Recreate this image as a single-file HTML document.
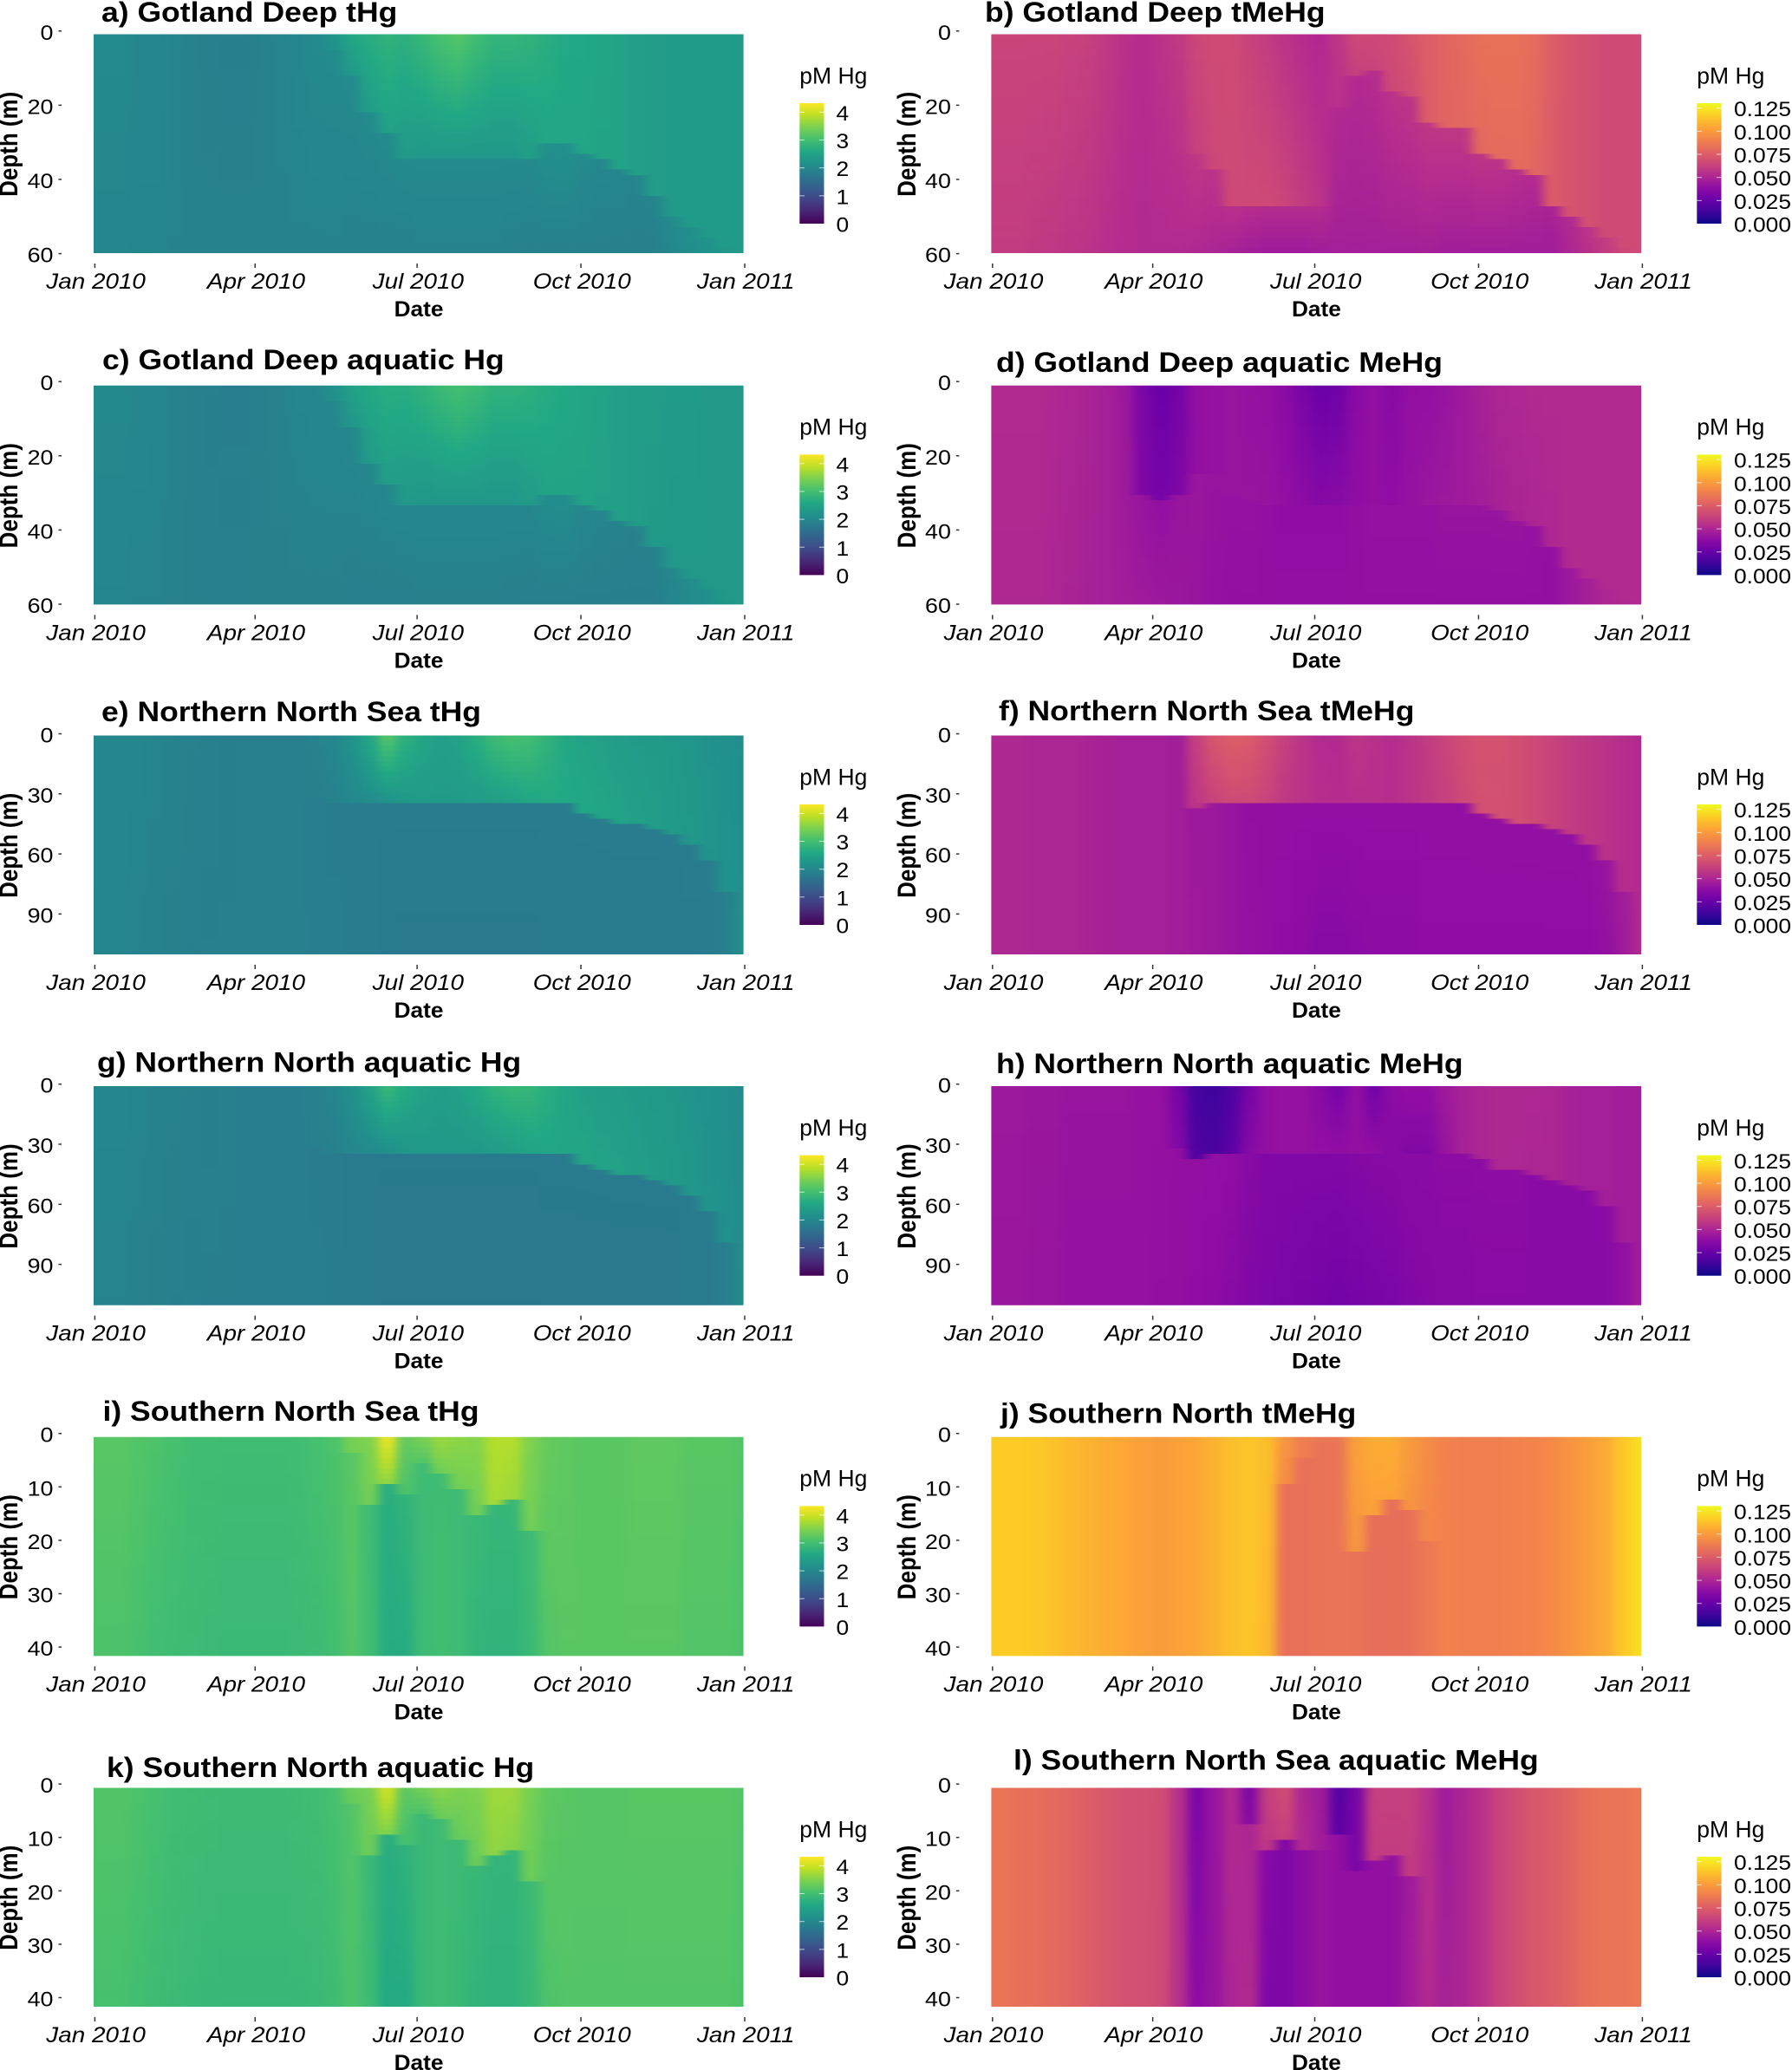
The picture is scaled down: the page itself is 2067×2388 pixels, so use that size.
<!DOCTYPE html>
<html lang="en">
<head>
<meta charset="utf-8">
<title>Hg and MeHg depth-time heatmaps</title>
<style>
html,body{margin:0;padding:0;background:#fff;}
svg{display:block;}
text{font-family:"Liberation Sans",sans-serif;fill:#000;}
</style>
</head>
<body>
<svg id="figure" xmlns="http://www.w3.org/2000/svg" width="2067" height="2388" viewBox="0 0 2067 2388">
<defs id="defs">
<filter id="column-smooth" x="-5%" y="0%" width="110%" height="100%" color-interpolation-filters="sRGB"><feGaussianBlur stdDeviation="6 0"/></filter>
</defs>
<rect x="0" y="0" width="2067" height="2388" fill="#fff"/>
</svg>
<script>
// Time columns (day of year) and axis labels
const colDays=[0,10,20,30,40,50,60,70,80,90,100,110,120,130,140,150,160,170,180,190,200,210,220,230,240,250,260,270,280,290,300,310,320,330,340,350,360];
const xTickDays=[0,90,181,273,365];
const xTickLabels=["Jan 2010","Apr 2010","Jul 2010","Oct 2010","Jan 2011"];
const depthTicksGotland=[0,20,40,60];
const depthTicksNorth=[0,30,60,90];
const depthTicksSouth=[0,10,20,30,40];
const hgLegendTicks=[0,1,2,3,4];
const mehgLegendTicks=[0,0.025,0.05,0.075,0.1,0.125];
const viridisStops=["#440154","#482475","#414487","#355f8d","#2a788e","#21918c","#22a884","#44bf70","#7ad151","#bddf26","#fde725"];
const plasmaStops=["#0d0887","#41049d","#6a00a8","#8f0da4","#b12a90","#cc4778","#e16462","#f2844b","#fca636","#fcce25","#f0f921"];

// a) Gotland Deep tHg
const aUpper=[2.05,2.05,2.0,2.0,1.95,1.9,1.87,1.85,1.85,1.9,1.95,2.0, 2.1,2.25,2.6,2.7,2.8,2.75,2.9,3.1,3.2,3.0,2.85,2.85,2.8, 2.7,2.6,2.6,2.55,2.5,2.45,2.4,2.35,2.35,2.35,2.35,2.35];
const aMixed=[2.05,2.05,2.0,2.0,1.95,1.9,1.87,1.85,1.85,1.9,1.95,2.0, 2.1,2.15,2.3,2.4,2.45,2.35,2.3,2.3,2.3,2.3,2.3,2.3,2.4, 2.55,2.55,2.55,2.5,2.5,2.45,2.4,2.35,2.35,2.35,2.35,2.35];
const aMld=[0,0,0,0,0,0,0,0,0,0,0,0, 0,5,12,22,28,34,34,34,34,34,34,34,34, 30,31,33,35,37,39,44,50,53,56,59,60];
const aLower=[2.05,2.05,2.0,2.0,1.95,1.9,1.87,1.85,1.85,1.9,1.95,2.0, 2.05,2.05,2.05,2.05,2.05,2.05,2.05,2.05,2.05,2.05,2.05,2.05,2.05, 2.15,2.15,2.05,2.0,1.98,1.95,1.95,2.05,2.12,2.2,2.28,2.35];
const aBottom=[1.98,1.98,1.95,1.95,1.93,1.92,1.92,1.92,1.92,1.92,1.92,1.92, 1.92,1.92,1.9,1.9,1.9,1.9,1.92,1.92,1.92,1.92,1.92,1.9,1.88, 1.88,1.88,1.88,1.88,1.88,1.88,1.88,2.0,2.1,2.2,2.28,2.35];

// b) Gotland Deep tMeHg
const bUpper=[.065,.065,.065,.065,.064,.062,.057,.051,.05,.054,.062,.065, .067,.067,.063,.06,.056,.053,.051,.058,.066,.066,.067,.071,.075, .078,.08,.083,.083,.083,.081,.075,.071,.069,.067,.067,.067];
const bMixed=[.065,.065,.065,.065,.064,.062,.057,.051,.05,.054,.062,.062, .065,.066,.066,.066,.064,.06,.056,.055,.062,.063,.066,.067,.075, .078,.079,.08,.081,.081,.079,.074,.071,.069,.067,.067,.067];
const bMld=[0,0,0,0,0,0,0,0,0,0,0,33, 38,47,47,47,47,47,47,20,12,11,16,18,25, 26,26,33,35,37,39,47,50,53,56,59,60];
const bLower=[.064,.064,.064,.064,.063,.062,.059,.055,.053,.056,.059,.058, .056,.055,.054,.053,.053,.053,.053,.052,.052,.053,.056,.057,.058, .058,.058,.057,.056,.054,.052,.049,.052,.056,.06,.065,.066];
const bBottom=[.06,.06,.059,.058,.057,.056,.054,.053,.052,.052,.052,.051, .05,.048,.046,.045,.045,.045,.046,.047,.047,.047,.047,.047,.047, .046,.046,.046,.046,.046,.046,.046,.05,.055,.06,.065,.066];

// c) Gotland Deep aquatic Hg
const cUpper=[2.03,2.03,2.0,1.98,1.93,1.88,1.85,1.83,1.83,1.88,1.93,1.98, 2.08,2.2,2.5,2.6,2.7,2.7,2.8,2.95,3.05,2.95,2.8,2.8,2.75, 2.65,2.6,2.55,2.5,2.45,2.4,2.4,2.35,2.35,2.3,2.3,2.3];
const cMixed=[2.03,2.03,2.0,1.98,1.93,1.88,1.85,1.83,1.83,1.88,1.93,1.98, 2.08,2.12,2.25,2.35,2.4,2.3,2.25,2.25,2.25,2.25,2.25,2.25,2.35, 2.5,2.5,2.5,2.45,2.45,2.4,2.35,2.3,2.3,2.3,2.3,2.3];
const cMld=[0,0,0,0,0,0,0,0,0,0,0,0, 0,5,12,22,28,34,34,34,34,34,34,34,34, 30,31,33,35,37,39,44,50,53,56,59,60];
const cLower=[2.03,2.03,2.0,1.98,1.93,1.88,1.85,1.83,1.83,1.88,1.93,1.98, 2.0,2.0,2.0,2.0,2.0,2.0,2.0,2.0,2.0,2.0,2.0,2.0,2.0, 2.1,2.1,2.0,1.95,1.92,1.9,1.9,2.0,2.08,2.15,2.25,2.3];
const cBottom=[1.96,1.96,1.93,1.93,1.9,1.88,1.88,1.88,1.88,1.88,1.88,1.88, 1.88,1.88,1.86,1.86,1.86,1.86,1.88,1.88,1.88,1.88,1.88,1.86,1.85, 1.85,1.85,1.85,1.85,1.85,1.85,1.85,1.95,2.05,2.15,2.25,2.3];

// d) Gotland Deep aquatic MeHg
const dUpper=[.052,.052,.052,.051,.05,.049,.047,.042,.032,.026,.029,.04, .041,.042,.041,.04,.037,.031,.026,.027,.037,.04,.036,.04,.04, .042,.045,.048,.05,.051,.052,.052,.052,.052,.052,.052,.052];
const dMixed=[.052,.052,.052,.051,.05,.049,.047,.042,.033,.03,.033,.04, .041,.042,.042,.042,.04,.038,.036,.037,.039,.04,.039,.041,.043, .044,.045,.046,.048,.049,.05,.051,.052,.052,.052,.052,.052];
const dMld=[0,0,0,0,0,0,0,0,30,32,30,25, 25,30,32,34,34,34,34,34,34,34,34,34,34, 34,34,34,35,37,39,44,50,53,56,59,60];
const dLower=[.052,.052,.052,.051,.05,.049,.047,.044,.042,.04,.042,.043, .042,.041,.041,.04,.039,.039,.039,.039,.04,.041,.041,.041,.041, .042,.042,.042,.042,.042,.041,.04,.044,.047,.05,.051,.052];
const dBottom=[.051,.051,.051,.05,.049,.048,.047,.046,.045,.044,.043,.042, .041,.04,.04,.04,.04,.04,.04,.04,.04,.04,.04,.04,.04, .04,.04,.04,.04,.04,.04,.04,.044,.047,.05,.051,.052];

// e) Northern North Sea tHg
const eUpper=[2.0,2.0,1.98,1.95,1.93,1.9,1.88,1.86,1.85,1.85,1.85,1.88, 1.92,2.0,2.2,2.6,3.2,2.75,2.55,2.45,2.5,2.7,2.95,3.05,3.0, 2.8,2.6,2.5,2.45,2.4,2.35,2.35,2.3,2.25,2.2,2.15,2.1];
const eMixed=[2.0,2.0,1.98,1.95,1.93,1.9,1.88,1.86,1.85,1.85,1.85,1.88, 1.88,1.9,2.0,2.05,2.15,2.3,2.35,2.35,2.35,2.35,2.4,2.45,2.55, 2.6,2.6,2.6,2.55,2.5,2.45,2.4,2.35,2.3,2.25,2.2,2.15];
const eMld=[0,0,0,0,0,0,0,0,0,0,0,0, 32,35,35,35,35,35,35,35,35,35,35,35,35, 35,35,40,42,44,45,47,50,55,63,80,110];
const eLower=[2.0,2.0,1.98,1.95,1.93,1.9,1.88,1.86,1.85,1.85,1.85,1.85, 1.82,1.8,1.78,1.78,1.78,1.78,1.78,1.78,1.78,1.78,1.78,1.78,1.78, 1.78,1.78,1.78,1.78,1.78,1.78,1.78,1.78,1.78,1.78,1.85,2.1];
const eBottom=[1.95,1.95,1.93,1.9,1.88,1.86,1.85,1.85,1.85,1.85,1.85,1.85, 1.83,1.82,1.8,1.78,1.76,1.75,1.75,1.75,1.75,1.75,1.75,1.75,1.75, 1.76,1.76,1.76,1.76,1.76,1.76,1.76,1.76,1.77,1.78,1.85,2.05];

// f) Northern North Sea tMeHg
const fUpper=[.051,.051,.051,.05,.05,.05,.05,.05,.05,.052,.055,.062, .072,.075,.074,.068,.062,.056,.052,.052,.057,.055,.053,.056,.06, .064,.068,.07,.07,.068,.066,.063,.06,.058,.056,.054,.052];
const fMixed=[.051,.051,.051,.05,.05,.05,.05,.05,.05,.052,.055,.058, .063,.066,.066,.063,.058,.056,.054,.053,.054,.054,.054,.056,.059, .062,.066,.069,.069,.068,.066,.063,.06,.058,.056,.054,.052];
const fMld=[0,0,0,0,0,0,0,0,0,0,0,36, 35,35,35,35,35,35,35,35,35,35,35,35,35, 35,35,40,42,44,45,47,50,55,63,80,110];
const fLower=[.051,.051,.05,.05,.05,.049,.048,.047,.047,.047,.046,.044, .044,.042,.04,.04,.04,.04,.04,.04,.04,.04,.04,.04,.04, .04,.04,.04,.04,.04,.04,.04,.04,.04,.042,.046,.052];
const fBottom=[.051,.051,.05,.05,.05,.049,.048,.047,.047,.047,.046,.045, .044,.042,.041,.04,.039,.038,.036,.036,.037,.038,.038,.038,.039, .039,.039,.039,.039,.039,.039,.039,.039,.039,.04,.045,.052];

// g) Northern North aquatic Hg
const gUpper=[1.98,1.98,1.96,1.93,1.91,1.88,1.86,1.85,1.84,1.84,1.84,1.86, 1.9,1.98,2.15,2.5,2.9,2.65,2.5,2.42,2.48,2.62,2.8,2.9,2.85, 2.7,2.55,2.45,2.4,2.38,2.33,2.3,2.28,2.22,2.18,2.12,2.05];
const gMixed=[1.98,1.98,1.96,1.93,1.91,1.88,1.86,1.85,1.84,1.84,1.84,1.86, 1.86,1.88,1.98,2.03,2.12,2.25,2.3,2.3,2.3,2.3,2.35,2.4,2.5, 2.55,2.55,2.55,2.5,2.48,2.42,2.38,2.32,2.28,2.22,2.18,2.1];
const gMld=[0,0,0,0,0,0,0,0,0,0,0,0, 32,35,35,35,35,35,35,35,35,35,35,35,35, 35,35,40,42,44,45,47,50,55,63,80,110];
const gLower=[1.98,1.98,1.96,1.93,1.91,1.88,1.86,1.85,1.84,1.84,1.84,1.84, 1.8,1.78,1.76,1.76,1.76,1.76,1.76,1.76,1.76,1.76,1.76,1.76,1.76, 1.76,1.76,1.76,1.76,1.76,1.76,1.76,1.76,1.76,1.77,1.83,2.05];
const gBottom=[1.93,1.93,1.91,1.88,1.86,1.85,1.84,1.84,1.84,1.84,1.84,1.84, 1.82,1.8,1.78,1.76,1.74,1.74,1.74,1.74,1.74,1.74,1.74,1.74,1.74, 1.75,1.75,1.75,1.75,1.75,1.75,1.75,1.75,1.76,1.77,1.83,2.02];

// h) Northern North aquatic MeHg
const hUpper=[.044,.044,.043,.043,.042,.042,.042,.042,.041,.041,.03,.014, .012,.017,.03,.04,.041,.041,.036,.03,.04,.028,.038,.04,.04, .045,.048,.05,.051,.051,.051,.05,.048,.047,.047,.046,.046];
const hMixed=[.044,.044,.043,.043,.042,.042,.042,.042,.041,.041,.035,.018, .016,.022,.036,.04,.041,.041,.04,.04,.04,.04,.036,.034,.034, .042,.048,.05,.051,.051,.05,.05,.048,.047,.047,.046,.046];
const hMld=[0,0,0,0,0,0,0,0,0,0,32,38, 36,35,35,35,35,35,35,35,35,35,35,35,35, 35,35,37,42,43,45,48,50,54,62,80,110];
const hLower=[.044,.044,.043,.043,.042,.042,.042,.042,.041,.041,.04,.04, .04,.039,.036,.034,.034,.034,.034,.034,.035,.036,.036,.037,.037, .038,.038,.038,.038,.038,.037,.037,.037,.037,.037,.04,.046];
const hBottom=[.043,.043,.042,.042,.041,.041,.041,.041,.041,.04,.04,.039, .038,.036,.034,.033,.032,.031,.03,.029,.03,.031,.032,.034,.035, .036,.036,.037,.037,.037,.037,.037,.037,.037,.037,.04,.046];

// i) Southern North Sea tHg
const iUpper=[3.2,3.2,3.15,3.1,3.05,3.0,3.0,2.98,2.98,2.98,2.98,3.0, 3.05,3.1,3.45,3.5,4.3,3.3,3.5,3.7,3.6,3.55,3.85,3.85,3.5, 3.3,3.25,3.2,3.2,3.2,3.25,3.25,3.25,3.2,3.2,3.2,3.15];
const iMixed=[3.2,3.2,3.15,3.1,3.05,3.0,3.0,2.98,2.98,2.98,2.98,3.0, 3.05,3.1,3.4,3.4,3.6,3.1,3.1,3.4,3.4,3.4,3.75,3.7,3.4, 3.3,3.25,3.2,3.2,3.2,3.25,3.25,3.25,3.2,3.2,3.2,3.15];
const iMld=[0,0,0,0,0,0,0,0,0,0,0,0, 0,0,4,13,9.5,11,6,7,10,15,13,12,18, 0,0,0,0,0,0,0,0,0,0,0,0];
const iLower=[3.2,3.2,3.15,3.1,3.05,3.0,3.0,2.98,2.98,2.98,2.98,3.0, 3.05,3.1,3.2,2.95,2.7,2.8,2.95,2.98,2.95,2.9,2.85,2.85,2.95, 3.3,3.25,3.2,3.2,3.2,3.25,3.25,3.25,3.2,3.2,3.2,3.15];
const iBottom=[3.1,3.1,3.05,3.0,2.98,2.95,2.92,2.9,2.9,2.9,2.9,2.92, 2.95,3.0,3.15,3.0,2.65,2.65,2.95,3.0,2.95,2.82,2.8,2.8,2.9, 3.15,3.2,3.2,3.2,3.2,3.2,3.2,3.2,3.15,3.15,3.15,3.1];

// j) Southern North tMeHg
const jUpper=[.116,.116,.115,.113,.11,.108,.106,.104,.102,.1,.102,.104, .108,.112,.114,.112,.098,.088,.086,.086,.102,.106,.106,.1,.094, .09,.089,.089,.089,.09,.091,.093,.097,.101,.105,.115,.122];
const jMixed=[.116,.116,.115,.113,.11,.108,.106,.104,.102,.1,.102,.104, .108,.112,.114,.112,.094,.088,.086,.086,.098,.102,.103,.097,.092, .09,.089,.089,.089,.09,.091,.093,.097,.101,.105,.115,.122];
const jMld=[0,0,0,0,0,0,0,0,0,0,0,0, 0,0,0,0,9,5,2,2,22,15,12,14,20, 0,0,0,0,0,0,0,0,0,0,0,0];
const jLower=[.116,.116,.115,.113,.11,.108,.106,.104,.102,.1,.102,.104, .108,.112,.114,.112,.083,.083,.084,.085,.084,.082,.082,.083,.086, .09,.089,.089,.089,.09,.091,.093,.097,.101,.105,.115,.122];
const jBottom=[.116,.116,.115,.113,.11,.108,.106,.104,.102,.1,.102,.104, .108,.112,.114,.11,.083,.083,.084,.085,.084,.082,.082,.083,.086, .09,.089,.089,.089,.09,.091,.093,.097,.101,.105,.115,.122];

// k) Southern North aquatic Hg
const kUpper=[3.15,3.15,3.1,3.05,3.0,2.98,2.96,2.95,2.95,2.95,2.95,2.97, 3.0,3.05,3.35,3.45,4.1,3.25,3.45,3.6,3.5,3.5,3.7,3.7,3.45, 3.25,3.2,3.18,3.18,3.18,3.2,3.2,3.2,3.2,3.2,3.2,3.15];
const kMixed=[3.15,3.15,3.1,3.05,3.0,2.98,2.96,2.95,2.95,2.95,2.95,2.97, 3.0,3.05,3.3,3.35,3.5,3.05,3.05,3.3,3.3,3.35,3.6,3.55,3.35, 3.25,3.2,3.18,3.18,3.18,3.2,3.2,3.2,3.2,3.2,3.2,3.15];
const kMld=[0,0,0,0,0,0,0,0,0,0,0,0, 0,0,4,13,9.5,11,6,7,10,15,13,12,18, 0,0,0,0,0,0,0,0,0,0,0,0];
const kLower=[3.15,3.15,3.1,3.05,3.0,2.98,2.96,2.95,2.95,2.95,2.95,2.97, 3.0,3.05,3.15,2.9,2.68,2.78,2.9,2.95,2.92,2.88,2.82,2.82,2.92, 3.25,3.2,3.18,3.18,3.18,3.2,3.2,3.2,3.2,3.2,3.2,3.15];
const kBottom=[3.05,3.05,3.0,2.96,2.93,2.9,2.88,2.87,2.87,2.87,2.87,2.88, 2.9,2.95,3.1,2.95,2.62,2.62,2.9,2.95,2.9,2.8,2.78,2.78,2.88, 3.1,3.15,3.15,3.15,3.15,3.15,3.15,3.15,3.15,3.15,3.15,3.1];

// l) Southern North Sea aquatic MeHg
const lUpper=[.085,.083,.082,.08,.078,.075,.072,.07,.069,.068,.055,.03, .042,.052,.032,.062,.068,.05,.045,.02,.03,.062,.062,.062,.055, .045,.05,.055,.063,.068,.072,.075,.078,.083,.085,.085,.086];
const lMixed=[.085,.083,.082,.08,.078,.075,.072,.07,.069,.068,.055,.03, .042,.052,.036,.058,.062,.052,.046,.022,.032,.06,.06,.06,.055, .045,.05,.055,.063,.068,.072,.075,.078,.083,.085,.085,.086];
const lMld=[0,0,0,0,0,0,0,0,0,0,0,0, 0,0,8,12,10,12,12,9,16,14,13,17,0, 0,0,0,0,0,0,0,0,0,0,0,0];
const lLower=[.085,.083,.082,.08,.078,.075,.072,.07,.069,.068,.055,.032, .042,.052,.05,.036,.033,.038,.042,.04,.04,.04,.04,.045,.055, .045,.05,.055,.063,.068,.072,.075,.078,.083,.085,.085,.086];
const lBottom=[.085,.083,.082,.08,.078,.075,.072,.07,.069,.067,.055,.038, .042,.05,.052,.033,.033,.038,.042,.04,.04,.04,.04,.046,.052, .048,.05,.055,.063,.068,.072,.075,.078,.083,.085,.085,.086];

const SVGNS='http://www.w3.org/2000/svg';
const svg=document.getElementById('figure');
const defs=document.getElementById('defs');
const HG_MAX=4.33, MEHG_MAX=0.13;
const PLOT_W=749.6, PLOT_H=252.7, ROWS=42, BLEED=30;

function hexToRgb(h){return [parseInt(h.slice(1,3),16),parseInt(h.slice(3,5),16),parseInt(h.slice(5,7),16)];}
function colorAt(stops,f){
  f=Math.max(0,Math.min(1,f));
  const p=f*(stops.length-1), i=Math.min(stops.length-2,Math.floor(p)), t=p-i;
  const a=hexToRgb(stops[i]), b=hexToRgb(stops[i+1]);
  return 'rgb('+a.map((c,k)=>Math.round(c+(b[k]-c)*t)).join(',')+')';
}
function mk(tag,attrs,parent){
  const el=document.createElementNS(SVGNS,tag);
  for(const k in attrs) el.setAttribute(k,attrs[k]);
  parent.appendChild(el);
  return el;
}
function gradient(id,stops){
  const g=mk('linearGradient',{id:id,x1:0,y1:1,x2:0,y2:0},defs);
  stops.forEach((c,i)=>mk('stop',{offset:i/(stops.length-1),'stop-color':c},g));
}
gradient('viridis-grad',viridisStops);
gradient('plasma-grad',plasmaStops);

function drawPanel(p){
  const L=p.col===0?108:1143.4;
  const T=p.top, B=T+PLOT_H;
  const g=mk('g',{},svg);
  
  

  // axis functions
  const xScale=d=>L+d/365*PLOT_W;
  const yScale=z=>T+p.yOffset+z*p.pxPerM;
  const zTop=(T-yScale(0))/p.pxPerM;
  const zBot=(B-yScale(0))/p.pxPerM;
  const stops=p.isHg?viridisStops:plasmaStops;
  const maxV=p.isHg?HG_MAX:MEHG_MAX;

  // title
  const title=mk('text',{transform:'translate('+p.tx+','+p.ty+') scale(1.11,1)','font-size':32,'font-weight':'bold'},g);
  
  
  title.textContent=p.title;

  // heat cells: clipped to the plot, smoothed along the time direction only
  const clip=mk('clipPath',{id:'plot-clip-'+p.key},defs);
  mk('rect',{x:L,y:T,width:PLOT_W,height:PLOT_H},clip);
  const outer=mk('g',{'clip-path':'url(#plot-clip-'+p.key+')'},g);
  
  
  const inner=mk('g',{filter:'url(#column-smooth)'},outer);
  
  
  const rowH=PLOT_H/ROWS;
  const lastCol=colDays.length-1;
  colDays.forEach((day,c)=>{
    const x0=c===0?L-BLEED:xScale(day);
    const x1=c===lastCol?L+PLOT_W+BLEED:xScale(day+10);
    for(let r=0;r<ROWS;r++){
      const z=zTop+(r+0.5)*(zBot-zTop)/ROWS;
      const mld=p.mld[c];
      let v;
      if(z<mld){ v=p.upper[c]+(p.mixed[c]-p.upper[c])*(z/mld); }
      else { v=p.lower[c]+(p.bottom[c]-p.lower[c])*((z-mld)/Math.max(1,zBot-mld)); }
      const cell=mk('rect',{x:x0.toFixed(1),y:(T+r*rowH).toFixed(1),width:(x1-x0+0.6).toFixed(1),height:(rowH+0.6).toFixed(1),fill:colorAt(stops,v/maxV),'shape-rendering':'crispEdges'},inner);
      
      
    }
  });

  // x axis
  xTickDays.forEach((d,i)=>{
    const tx=xScale(d)+1.4;
    const tick=mk('line',{x1:tx,x2:tx,y1:B+12,y2:B+17,stroke:'#333','stroke-width':1.5},g);
    
    
    const lab=mk('text',{transform:'translate('+(tx+1.2)+','+(B+41)+') scale(1.115,1)','font-size':25,'font-style':'italic','text-anchor':'middle'},g);
    
    
    lab.textContent=xTickLabels[i];
  });
  const xTitle=mk('text',{transform:'translate('+(L+375)+','+(B+73)+') scale(1.05,1)','font-size':25,'font-weight':'bold','text-anchor':'middle'},g);
  
  
  xTitle.textContent='Date';

  // y axis
  const axisRight=L-37;
  p.depthTicks.forEach(z=>{
    const ty=yScale(z);
    const tick=mk('line',{x1:axisRight-3.5,x2:axisRight,y1:ty,y2:ty,stroke:'#333','stroke-width':1.5},g);
    
    
    const lab=mk('text',{transform:'translate('+(axisRight-9.5)+','+(ty+10)+') scale(1.12,1)','font-size':24,'text-anchor':'end'},g);
    
    
    lab.textContent=String(z);
  });
  const yTitleX=p.col===0?20:1056;
  const yTitle=mk('text',{transform:'translate('+yTitleX+','+(T+127)+') rotate(-90) scale(1,1.15)','font-size':26,'font-weight':'bold','text-anchor':'middle'},g);
  
  
  yTitle.textContent='Depth (m)';

  // legend
  const lx=p.col===0?922.3:1957.3, lw=28.2;
  const barTop=T+79.7, barBottom=T+218.7;
  const lt=mk('text',{transform:'translate('+lx+','+(T+57)+')','font-size':26.5},g);
  
  
  lt.textContent='pM Hg';
  const bar=mk('rect',{x:lx,y:barTop,width:lw,height:barBottom-barTop,fill:p.isHg?'url(#viridis-grad)':'url(#plasma-grad)'},g);
  
  
  const legendTicks=p.isHg?hgLegendTicks:mehgLegendTicks;
  const pxPerVal=p.isHg?32.15:1066.4;
  legendTicks.forEach(v=>{
    const ty=barBottom-v*pxPerVal;
    if(v>0){
      const t1=mk('line',{x1:lx,x2:lx+5.6,y1:ty,y2:ty,stroke:'#fff','stroke-opacity':.7,'stroke-width':1},g);
      
      
      const t2=mk('line',{x1:lx+lw-5.6,x2:lx+lw,y1:ty,y2:ty,stroke:'#fff','stroke-opacity':.7,'stroke-width':1},g);
      
      
    }
    const lab=mk('text',{transform:'translate('+(lx+lw+(p.isHg?14:14.5))+','+(ty+9.5)+') scale(1.1,1)','font-size':24},g);
    
    
    lab.textContent=p.isHg?String(v):v.toFixed(3);
  });
}

const panels=[
 {key:'a',title:'a) Gotland Deep tHg',col:0,top:39.3,tx:117,ty:25,isHg:true,depthTicks:depthTicksGotland,yOffset:-3.5,pxPerM:4.28,upper:aUpper,mixed:aMixed,mld:aMld,lower:aLower,bottom:aBottom},
 {key:'b',title:'b) Gotland Deep tMeHg',col:1,top:39.3,tx:1136,ty:25,isHg:false,depthTicks:depthTicksGotland,yOffset:-3.5,pxPerM:4.28,upper:bUpper,mixed:bMixed,mld:bMld,lower:bLower,bottom:bBottom},
 {key:'c',title:'c) Gotland Deep aquatic Hg',col:0,top:444.7,tx:118,ty:426,isHg:true,depthTicks:depthTicksGotland,yOffset:-4.5,pxPerM:4.28,upper:cUpper,mixed:cMixed,mld:cMld,lower:cLower,bottom:cBottom},
 {key:'d',title:'d) Gotland Deep aquatic MeHg',col:1,top:444.7,tx:1149,ty:429,isHg:false,depthTicks:depthTicksGotland,yOffset:-4.5,pxPerM:4.28,upper:dUpper,mixed:dMixed,mld:dMld,lower:dLower,bottom:dBottom},
 {key:'e',title:'e) Northern North Sea tHg',col:0,top:848.3,tx:117,ty:832,isHg:true,depthTicks:depthTicksNorth,yOffset:-1.8,pxPerM:2.31,upper:eUpper,mixed:eMixed,mld:eMld,lower:eLower,bottom:eBottom},
 {key:'f',title:'f) Northern North Sea tMeHg',col:1,top:848.3,tx:1152,ty:831,isHg:false,depthTicks:depthTicksNorth,yOffset:-1.8,pxPerM:2.31,upper:fUpper,mixed:fMixed,mld:fMld,lower:fLower,bottom:fBottom},
 {key:'g',title:'g) Northern North aquatic Hg',col:0,top:1253,tx:112,ty:1236.5,isHg:true,depthTicks:depthTicksNorth,yOffset:-2.3,pxPerM:2.31,upper:gUpper,mixed:gMixed,mld:gMld,lower:gLower,bottom:gBottom},
 {key:'h',title:'h) Northern North aquatic MeHg',col:1,top:1253,tx:1149,ty:1238,isHg:false,depthTicks:depthTicksNorth,yOffset:-2.3,pxPerM:2.31,upper:hUpper,mixed:hMixed,mld:hMld,lower:hLower,bottom:hBottom},
 {key:'i',title:'i) Southern North Sea tHg',col:0,top:1657.7,tx:118.5,ty:1639,isHg:true,depthTicks:depthTicksSouth,yOffset:-4,pxPerM:6.16,upper:iUpper,mixed:iMixed,mld:iMld,lower:iLower,bottom:iBottom},
 {key:'j',title:'j) Southern North tMeHg',col:1,top:1657.7,tx:1154,ty:1641.6,isHg:false,depthTicks:depthTicksSouth,yOffset:-4,pxPerM:6.16,upper:jUpper,mixed:jMixed,mld:jMld,lower:jLower,bottom:jBottom},
 {key:'k',title:'k) Southern North aquatic Hg',col:0,top:2062.3,tx:123,ty:2050,isHg:true,depthTicks:depthTicksSouth,yOffset:-4.2,pxPerM:6.16,upper:kUpper,mixed:kMixed,mld:kMld,lower:kLower,bottom:kBottom},
 {key:'l',title:'l) Southern North Sea aquatic MeHg',col:1,top:2062.3,tx:1169,ty:2041.7,isHg:false,depthTicks:depthTicksSouth,yOffset:-4.2,pxPerM:6.16,upper:lUpper,mixed:lMixed,mld:lMld,lower:lLower,bottom:lBottom}
];
panels.forEach(drawPanel);
</script>
</body>
</html>
